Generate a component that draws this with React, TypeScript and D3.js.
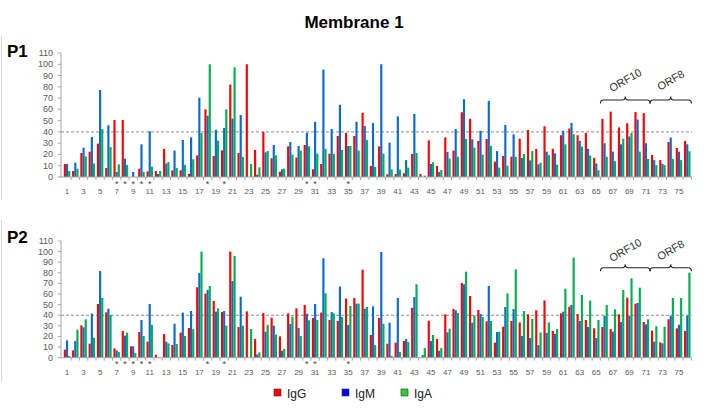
import React from "react";
import * as d3 from "d3";

const categories: number[] = d3.range(1, 77);
const xTickLabels: number[] = d3.range(1, 77, 2);
const yTicks: number[] = d3.range(0, 111, 10);
const starred: number[] = [7, 8, 9, 10, 11, 18, 20, 30, 31, 35];
const seriesNames = ["IgG", "IgM", "IgA"];

const p1IgG = [11.5,5.3,21.3,22.5,29.6,8,50.6,50.6,0,7.4, 5,5.3,24.9,5.9,5.9,2.7,19.2,60,18.6,23.7, 82,21.3,100,24,40,16.6,4.7,27.2,17.2,28.4, 6.8,11.5,20.7,36.4,39,36.4,57,9.8,27.2,2.4, 2.7,3.3,20.4,2.7,32.5,9.8,35.2,23.4,57.4,51.5, 32,33.7,13.6,18.6,18,34,41.7,24.9,45,25, 37,43,37,39,17,51.5,58,44,47.7,57.6, 56.7,19.6,15,31,25.7,32];
const p1IgM = [11.5,12.7,26,35.5,77.2,45.9,4.4,16.3,4.4,29, 40.5,2.7,12,23.4,32.8,35.2,70.4,54.4,42,43.5, 51.8,55,0,2,21.9,28.4,6.8,31,27.5,39.3, 49,95.3,42.6,64,27.5,49,45.3,48,100,30.5, 53.8,15,56,0,11.5,4.4,22.2,42.6,69,33.4, 41,67.5,23,46.2,37.9,16.9,14.8,11.2,22.5,21, 41,48,32,25,12,30,22.5,29,36,51, 30,15,11.7,35,22.5,29];
const p1IgA = [5.3,7.4,18.3,12,42.6,26.6,11.2,10.7,0,4.4, 9.2,5.3,13.3,8,10.7,15.7,39,100,32.2,60, 97.3,17.8,11.5,8.6,23,19.2,7.4,19.8,23.4,27.2, 20.7,25.1,20.4,24,27.5,23.4,32.8,8.9,20.7,6.8, 6.5,8.3,21.3,1.2,13,6.2,16.3,18,33.7,26, 19.8,27.5,8.3,10,17.8,20.4,23,12.7,19.5,11, 29,38,27,19,6,18,14,34,39,22.5, 16,10.5,10.5,16,15,22.8];

const p2IgG = [7.5,6.9,30.5,13.2,50.6,42.8,8.8,25.2,10.7,24.2, 15.1,2.8,22.3,11.9,23.6,28,66.4,60.4,53.5,43, 100,28.9,43.7,17.6,42.1,37.7,20.1,41.8,46.5,49.7, 37.4,42.5,35.5,34.6,55.7,56.3,83,21.4,37.4,13.2, 14.2,15.7,47,0,34.9,17.6,40.9,45.9,70.4,58.2, 45,34.3,14.2,29.2,34.6,33.3,40.9,44.7,54,25.2, 41.8,48.1,41.2,35.5,27.7,28.9,27,40.9,56.6,50.9, 33.6,25.5,14.5,36.2,27.7,25.2];
const p2IgM = [16.4,15.7,28.6,41.5,81.8,46.2,6.9,20.8,10.7,35.5, 50.6,0.6,15.1,32,42.5,44,79.9,63.8,43.4,44, 72.3,57.5,0,3.1,24.5,30.2,6.6,31.8,28,41.5, 50.6,93.7,43,67,30.8,51,46.2,48.4,99.7,33, 56.3,17.6,57.2,2.5,15.7,6.6,23.9,44.7,69.2,33, 41.2,67.6,24.2,47.8,45.9,20.4,18.6,11.9,23.3,22.3, 43.4,49.7,34.6,28.9,18.6,39.6,24.5,33.6,39.6,51.6, 31.4,15.1,13.5,39.6,31.1,39.6];
const p2IgA = [1.6,26.4,36.2,18.9,56.3,40.3,5.3,23.6,4.4,20.4, 31,0,13.5,12.9,20.4,27,100,67.6,46.5,30.2, 95.9,30.2,27,5,31,21.7,8.2,38.7,20.4,35.2, 35.5,60.7,41.8,38.4,48.7,51,47.8,11.9,32,1.6, 5.3,14.8,69.2,9.1,21.4,9.1,27.4,42.1,81.1,39.9, 38.4,34.6,24.5,60.7,83.3,44,36.5,23.9,33.3,27, 65.1,94.3,59.1,53.8,35.5,49.7,45.6,63.8,74.8,66, 36.2,29.6,29.2,56.3,56.3,80.2];

const orfGroups = [
  { name: "ORF10", from: 66, to: 71 },
  { name: "ORF8", from: 72, to: 76 },
];

const barColors = ["#ff0000", "#0a6ccf", "#00b050"];
const legendColors = ["#ff0000", "#0000ff", "#33cc33"];
const FONT = "'Liberation Sans', Arial, sans-serif";

const x = d3.scaleBand<number>().domain(categories).range([62.9, 691.4]).paddingInner(0).paddingOuter(0);
const BAR_W = 2.15;

type PanelCfg = {
  label: string;
  data: number[][];
  y0: number;
  yTop: number;
  labelY: number;
  bracketY: number;
  orfY: number;
  frameTop: number;
  frameBottom: number;
};

const panels: PanelCfg[] = [
  { label: "P1", data: [p1IgG, p1IgM, p1IgA], y0: 177, yTop: 53, labelY: 57, bracketY: 100, orfY: 80, frameTop: 36, frameBottom: 200 },
  { label: "P2", data: [p2IgG, p2IgM, p2IgA], y0: 357.7, yTop: 241, labelY: 243, bracketY: 267.7, orfY: 250, frameTop: 220, frameBottom: 382 },
];

function bracePath(a: number, b: number, y: number) {
  const m = (a + b) / 2;
  return `M${a},${y + 3.5} Q${a},${y} ${a + 3},${y} L${m - 3},${y} Q${m},${y} ${m},${y - 3.5} Q${m},${y} ${m + 3},${y} L${b - 3},${y} Q${b},${y} ${b},${y + 3.5}`;
}

function Panel({ cfg }: { cfg: PanelCfg }) {
  const y = d3.scaleLinear().domain([0, 110]).range([cfg.y0, cfg.yTop]);
  const bw = x.bandwidth();
  const xl = 61;
  const xr = 692;
  return (
    <g>
      <line x1={1.5} x2={1.5} y1={cfg.frameTop} y2={cfg.frameBottom} stroke="#d9d9d9" strokeWidth={1} />
      <text x={7} y={cfg.labelY} fontFamily={FONT} fontWeight="bold" fontSize={17} fill="#000">{cfg.label}</text>
      {yTicks.map((t) => (
        <g key={t}>
          <text x={53} y={y(t) + 3} textAnchor="end" fontFamily={FONT} fontSize={9} fill="#595959">{t}</text>
          <line x1={xl - 3} x2={xl} y1={y(t)} y2={y(t)} stroke="#a6a6a6" />
        </g>
      ))}
      <line x1={xl} x2={xl} y1={y(110)} y2={y(0)} stroke="#a6a6a6" />
      <line x1={xl} x2={xr} y1={y(40)} y2={y(40)} stroke="#8c8c8c" strokeDasharray="3,2" strokeWidth={1} />
      {cfg.data.map((series, si) =>
        series.map((v, i) => {
          const c = categories[i];
          const cx = (x(c) as number) + bw / 2;
          const bx = cx - 1.5 * BAR_W + si * BAR_W;
          return <rect key={si + "-" + i} x={bx} y={y(v)} width={BAR_W} height={Math.max(0, y(0) - y(v))} fill={barColors[si]} />;
        })
      )}
      <line x1={xl} x2={xr} y1={y(0)} y2={y(0)} stroke="#a6a6a6" />
      {categories.map((c) => (
        <line key={c} x1={(x(c) as number) + bw} x2={(x(c) as number) + bw} y1={y(0)} y2={y(0) + 3} stroke="#a6a6a6" />
      ))}
      {starred.map((c) => (
        <text key={c} x={(x(c) as number) + bw / 2} y={y(0) + 9.5} textAnchor="middle" fontFamily={FONT} fontSize={9} fill="#404040">*</text>
      ))}
      {xTickLabels.map((c) => (
        <text key={c} x={(x(c) as number) + bw / 2} y={y(0) + 17} textAnchor="middle" fontFamily={FONT} fontSize={8} fill="#595959">{c}</text>
      ))}
      {orfGroups.map((g) => {
        const a = x(g.from) as number;
        const b = (x(g.to) as number) + bw;
        const m = (a + b) / 2;
        return (
          <g key={g.name}>
            <path d={bracePath(a, b, cfg.bracketY)} fill="none" stroke="#222" strokeWidth={1.1} />
            <text x={m} y={cfg.orfY + 4} textAnchor="middle" fontFamily={FONT} fontSize={11} fill="#333" transform={`rotate(-30 ${m} ${cfg.orfY})`}>{g.name}</text>
          </g>
        );
      })}
    </g>
  );
}

export default function App() {
  const legendX = [274, 342, 401];
  return (
    <svg width={708} height={410} style={{ position: "absolute", left: 0, top: 0, background: "#fff" }}>
      <rect x={0} y={0} width={708} height={410} fill="#fff" />
      <text x={354} y={28} textAnchor="middle" fontFamily={FONT} fontWeight="bold" fontSize={17} fill="#000">Membrane 1</text>
      {panels.map((p) => <Panel key={p.label} cfg={p} />)}
      {seriesNames.map((n, i) => (
        <g key={n}>
          <rect x={legendX[i]} y={389} width={7} height={7} fill={legendColors[i]} stroke="#333" strokeWidth={0.6} />
          <text x={legendX[i] + 13} y={397.5} fontFamily={FONT} fontSize={12} fill="#222">{n}</text>
        </g>
      ))}
    </svg>
  );
}
